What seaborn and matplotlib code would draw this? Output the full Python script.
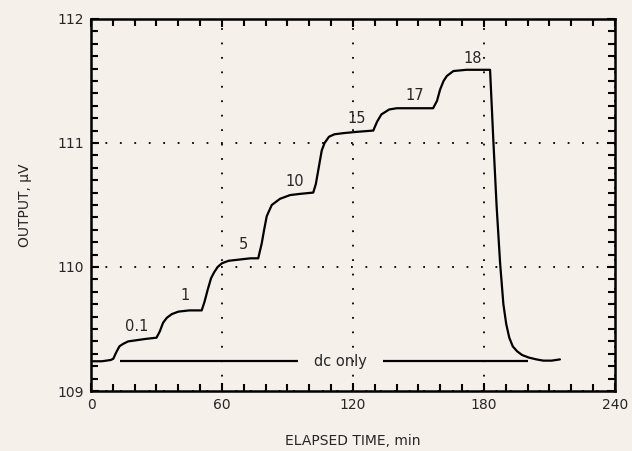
import matplotlib
matplotlib.use("Agg")
import matplotlib.pyplot as plt
import pandas as pd
import seaborn as sns
from matplotlib.ticker import MultipleLocator

# recorder trace
time_min = [0, 5, 9, 10.2, 11.5, 13, 14.7, 17, 21, 25, 30, 31.5, 33, 34.7, 37, 40, 45, 50.7,
            52, 53.5, 55, 56.5, 58, 60, 63, 68, 73, 76.6, 78.2, 79.3, 80.5, 82.8, 86.6,
            91.2, 96, 101.8, 103, 104.1, 105.7, 107, 109, 111.5, 116, 122, 129.3, 131,
            133, 136.6, 140, 147, 156.7, 158.5, 159.9, 161.5, 163, 166, 172, 178, 182.8,
            184.3, 185.8, 187.4, 188.9, 190.2, 191.6, 193.2, 195.2, 197.5, 200.5, 204,
            207.2, 211, 214.8]
output_uv = [109.24, 109.24, 109.25, 109.26, 109.31, 109.36, 109.38, 109.40, 109.41, 109.42,
             109.43, 109.48, 109.55, 109.59, 109.62, 109.64, 109.65, 109.65,
             109.72, 109.82, 109.91, 109.96, 110.00, 110.03, 110.05, 110.06, 110.07, 110.07,
             110.19, 110.30, 110.41, 110.50, 110.55,
             110.58, 110.59, 110.60, 110.67, 110.78, 110.94, 111.00, 111.05, 111.07, 111.08,
             111.09, 111.10, 111.17, 111.23, 111.27, 111.28, 111.28, 111.28, 111.34, 111.43,
             111.50, 111.54, 111.58, 111.59, 111.59, 111.59,
             111.02, 110.49, 110.03, 109.70, 109.54, 109.43, 109.36, 109.32, 109.29, 109.27,
             109.255, 109.245, 109.245, 109.255]

step_labels = ["0.1", "1", "5", "10", "15", "17", "18"]
label_time = [20.9, 43, 69.8, 93.4, 121.7, 148.4, 175]
label_output = [109.52, 109.77, 110.18, 110.69, 111.20, 111.38, 111.68]

dc_level = 109.24
dc_start = [13.3, 133.8]
dc_end = [95, 200.2]

df = pd.DataFrame({"time": time_min, "output": output_uv})

sns.set_style("white")
plt.rcParams["font.family"] = ["DejaVu Sans"]
bg = "#f6f0eb"

fig = plt.figure(figsize=(6.32, 4.51), dpi=100, facecolor=bg)
ax = fig.add_axes([0.144, 0.133, 0.829, 0.825])
ax.set_facecolor(bg)

sns.lineplot(data=df, x="time", y="output", estimator=None, sort=False,
             color="black", linewidth=1.6, ax=ax)

ax.hlines([dc_level] * len(dc_start), dc_start, dc_end, color="black", linewidth=1.6)
ax.text((dc_end[0] + dc_start[1]) / 2, dc_level, "dc only", ha="center", va="center",
        fontsize=10.5)

for lab, tx, ty in zip(step_labels, label_time, label_output):
    ax.text(tx, ty, lab, ha="center", va="center", fontsize=10.5)

ax.set_xlim(0, 240)
ax.set_ylim(109, 112)
ax.xaxis.set_major_locator(MultipleLocator(60))
ax.xaxis.set_minor_locator(MultipleLocator(10))
ax.yaxis.set_major_locator(MultipleLocator(1))
ax.yaxis.set_minor_locator(MultipleLocator(0.1))
ax.tick_params(which="both", direction="in", top=True, right=True, bottom=True, left=True,
               width=1.5, color="black", labelsize=10)
ax.tick_params(which="major", length=6, pad=5)
ax.tick_params(which="minor", length=5)

ax.grid(True, which="major", linestyle=(0, (1, 7)), color="black", linewidth=1.3)
for s in ax.spines.values():
    s.set_linewidth(1.8)
    s.set_color("black")

ax.set_xlabel("ELAPSED TIME, min", fontsize=10, labelpad=16)
ax.set_ylabel("OUTPUT, \u00b5V", fontsize=10, labelpad=18)

fig.savefig("out.png", dpi=100, facecolor=bg)
